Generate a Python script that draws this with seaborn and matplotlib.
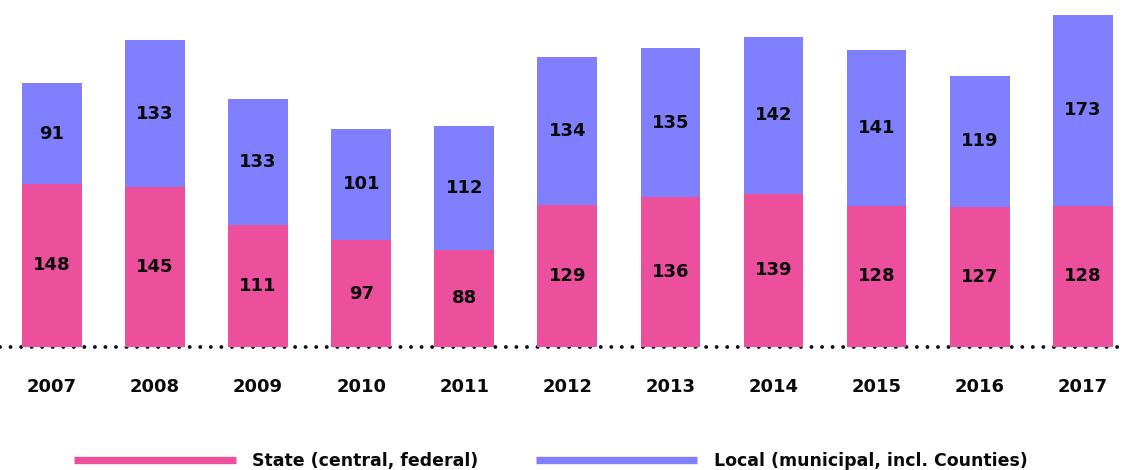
import matplotlib
matplotlib.use("Agg")
import matplotlib.pyplot as plt
import seaborn as sns
import pandas as pd
from matplotlib.lines import Line2D

years = ["2007", "2008", "2009", "2010", "2011", "2012", "2013", "2014", "2015", "2016", "2017"]
state = [148, 145, 111, 97, 88, 129, 136, 139, 128, 127, 128]
# bar heights of the local segment as drawn in the picture
local = [91, 133, 114, 101, 112, 134, 135, 142, 141, 119, 173]
# printed labels of the local segment
local_labels = ["91", "133", "133", "101", "112", "134", "135", "142", "141", "119", "173"]
series_names = ["State (central, federal)", "Local (municipal, incl. Counties)"]

PINK = "#EC4F9B"
BLUE = "#8080FF"

sns.set_theme(style="white")
plt.rcParams["font.family"] = ["DejaVu Sans"]

df = pd.DataFrame({"year": years, "state": state, "local": local})
df["total"] = df["state"] + df["local"]

fig = plt.figure(figsize=(11.24, 4.70), dpi=100)
ax = fig.add_axes([0, 0.2617, 1, 0.7383])

sns.barplot(data=df, x="year", y="total", color=BLUE, saturation=1, width=0.58,
            ax=ax, zorder=2, order=years, linewidth=0, edgecolor="none")
sns.barplot(data=df, x="year", y="state", color=PINK, saturation=1, width=0.58,
            ax=ax, zorder=3, order=years, linewidth=0, edgecolor="none")

for i, (s, l, ll) in enumerate(zip(state, local, local_labels)):
    ax.text(i, s / 2, str(s), ha="center", va="center", fontsize=13,
            fontweight="bold", color="#0a0a0a", zorder=5)
    ax.text(i, s + l / 2, ll, ha="center", va="center", fontsize=13,
            fontweight="bold", color="#0a0a0a", zorder=5)

ax.set_xlim(-0.504, 10.40)
ax.set_ylim(0, 314.6)
ax.plot([-0.504, 10.40], [0, 0], color="#111111", linewidth=2.8,
        linestyle=(0, (0.01, 2.7)), dash_capstyle="round", zorder=1, clip_on=False)

for sp in ax.spines.values():
    sp.set_visible(False)
ax.set_yticks([])
ax.set_xlabel("")
ax.set_ylabel("")
ax.tick_params(axis="x", length=0, pad=22, labelsize=13)
for t in ax.get_xticklabels():
    t.set_fontweight("bold")
    t.set_color("#0a0a0a")

handles = [Line2D([0], [0], color=PINK, lw=5.3, solid_capstyle="butt"),
           Line2D([0], [0], color=BLUE, lw=5.3, solid_capstyle="butt")]
leg = fig.legend(handles, series_names, loc="center", bbox_to_anchor=(0.490, 0.02),
                 ncol=2, frameon=False, handlelength=9.3, handletextpad=0.95,
                 columnspacing=3.3, prop={"weight": "bold", "size": 12.5})
for t in leg.get_texts():
    t.set_color("#0a0a0a")

fig.savefig("out.png", dpi=100)
